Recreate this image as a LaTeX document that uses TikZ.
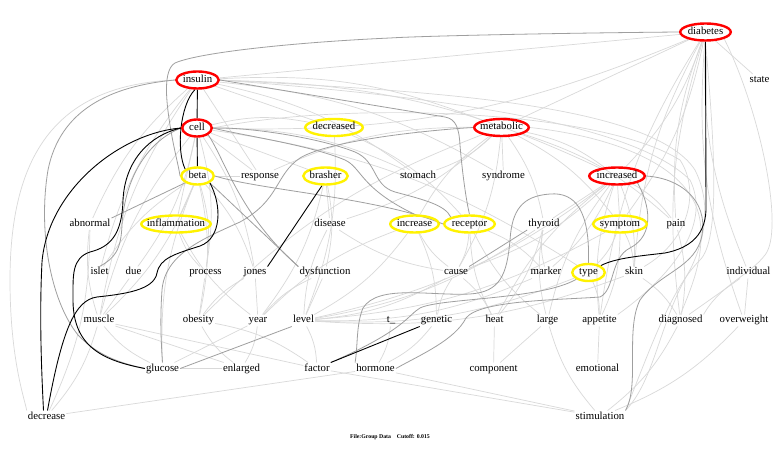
\documentclass[tikz,border=0pt]{standalone}
\usepackage{fontspec}
\setmainfont{Liberation Serif}
\usetikzlibrary{shapes.geometric,backgrounds}
\newcommand{\lblfont}{\fontsize{10.8}{12}\selectfont}
\begin{document}
\begin{tikzpicture}[x=1pt,y=-1pt,
 lab/.style={inner sep=1pt, font=\lblfont, text height=7.3pt, text depth=2.3pt},
 ov/.style={ellipse, line width=2.4pt, inner sep=0pt, minimum height=17pt},
 redov/.style={ov, draw=red},
 yelov/.style={ov, draw=yellow},
 lt/.style={draw=gray!30, line width=0.7pt},
 dk/.style={draw=gray!75, line width=0.8pt},
 bk/.style={draw=black, line width=0.9pt},
]
\path[use as bounding box] (0,0) rectangle (780,449);

% highlighted nodes
\node[redov, minimum width=50.5pt] (diabetes) at (705.5,32) {};
\node[redov, minimum width=42.5pt] (insulin) at (197.5,80) {};
\node[redov, minimum width=29.5pt] (cell) at (197,128) {};
\node[yelov, minimum width=57.5pt] (decreased) at (334,127.5) {};
\node[redov, minimum width=54.5pt] (metabolic) at (501.5,127.5) {};
\node[yelov, minimum width=32.5pt] (beta) at (197.5,176) {};
\node[yelov, minimum width=44.5pt] (brasher) at (325.5,176) {};
\node[redov, minimum width=55.5pt] (increased) at (617,176) {};
\node[yelov, minimum width=69.5pt] (inflammation) at (176,224) {};
\node[yelov, minimum width=48.5pt] (increase) at (414.5,224) {};
\node[yelov, minimum width=50.5pt] (receptor) at (469.5,224) {};
\node[yelov, minimum width=53.5pt] (symptom) at (620,224) {};
\node[yelov, minimum width=32.5pt] (type) at (588.5,272.5) {};

\foreach \n in {diabetes,insulin,cell,decreased,metabolic,beta,brasher,increased,inflammation,increase,receptor,symptom,type}
  \node[lab] (\n-t) at (\n) {\n};

% plain labels
\node[lab] (state) at (759.5,80) {state};
\node[lab] (response) at (260,176) {response};
\node[lab] (stomach) at (418,176) {stomach};
\node[lab] (syndrome) at (503.5,176) {syndrome};
\node[lab] (abnormal) at (90,224) {abnormal};
\node[lab] (disease) at (330,224) {disease};
\node[lab] (thyroid) at (544,224) {thyroid};
\node[lab] (pain) at (676,224) {pain};
\node[lab] (islet) at (99.5,272.5) {islet};
\node[lab] (due) at (133.5,272.5) {due};
\node[lab] (process) at (205.5,272.5) {process};
\node[lab] (jones) at (255,272.5) {jones};
\node[lab] (dysfunction) at (325,272.5) {dysfunction};
\node[lab] (cause) at (456,272.5) {cause};
\node[lab] (marker) at (546,272.5) {marker};
\node[lab] (skin) at (634,272.5) {skin};
\node[lab] (individual) at (748.5,272.5) {individual};
\node[lab] (muscle) at (99,320.5) {muscle};
\node[lab] (obesity) at (198.5,320.5) {obesity};
\node[lab] (year) at (258,320.5) {year};
\node[lab] (level) at (303.5,320.5) {level};
\node[lab] (tu) at (391,320.5) {t\_};
\node[lab] (genetic) at (436.5,320.5) {genetic};
\node[lab] (heat) at (494.5,320.5) {heat};
\node[lab] (large) at (547.5,320.5) {large};
\node[lab] (appetite) at (599.5,320.5) {appetite};
\node[lab] (diagnosed) at (680.5,320.5) {diagnosed};
\node[lab] (overweight) at (744,320.5) {overweight};
\node[lab] (glucose) at (162.5,368.5) {glucose};
\node[lab] (enlarged) at (241.5,368.5) {enlarged};
\node[lab] (factor) at (317,368.5) {factor};
\node[lab] (hormone) at (375.5,368.5) {hormone};
\node[lab] (component) at (493.5,368.5) {component};
\node[lab] (emotional) at (597.5,368.5) {emotional};
\node[lab] (decrease) at (46.5,416.5) {decrease};
\node[lab] (stimulation) at (600,416.5) {stimulation};
\node[inner sep=0pt, font=\fontsize{5.8}{7}\selectfont\bfseries] (caption) at (390,437) {File:Group Data\quad Cutoff: 0.015};

\begin{pgfonlayer}{background}
\fill[white] (0,0) rectangle (780,449);
% light edges
\foreach \a/\b in {diabetes/state,diabetes/insulin,diabetes/metabolic,metabolic/syndrome,increased/symptom,increased/thyroid,insulin/decreased,insulin/response,cell/response,cell/brasher,cell/inflammation,beta/inflammation,beta/response,brasher/disease,appetite/emotional,individual/overweight,individual/diagnosed,heat/component,large/component,decrease/hormone,hormone/stimulation,factor/stimulation,obesity/process,muscle/due,year/jones,level/dysfunction,glucose/year,muscle/factor,muscle/enlarged,glucose/enlarged}
  \draw[lt] (\a) -- (\b);
\foreach \a/\b in {diabetes/symptom,diabetes/increased,diabetes/cell,insulin/metabolic,insulin/increased,insulin/stomach,insulin/syndrome,cell/decreased,cell/stomach,cell/process,cell/due,cell/jones,cell/type,metabolic/increased,metabolic/thyroid,metabolic/symptom,metabolic/stomach,metabolic/disease,metabolic/cause,metabolic/pain,beta/process,beta/jones,beta/obesity,beta/muscle,increased/pain,increased/skin,increased/cause,increased/level,increased/marker,decreased/level,decreased/receptor,brasher/year,brasher/dysfunction,receptor/cause,receptor/marker,increase/level,increase/genetic,thyroid/level,thyroid/heat,symptom/type,symptom/appetite,symptom/skin,symptom/level,pain/diagnosed,cause/level,cause/heat,marker/level,type/level,type/appetite,skin/diagnosed,skin/level,obesity/factor,year/enlarged,level/factor,tu/hormone,genetic/hormone,diagnosed/stimulation,overweight/stimulation}
  \draw[lt] (\a) to[bend left=12] (\b);
\foreach \a/\b in {diabetes/individual,diabetes/overweight,diabetes/diagnosed,diabetes/skin,diabetes/pain,diabetes/appetite,insulin/abnormal,insulin/muscle,insulin/islet,cell/muscle,beta/islet,beta/glucose,inflammation/process,inflammation/year,disease/cause,disease/level,increase/cause,increase/year,receptor/heat,receptor/large,thyroid/marker,thyroid/large,dysfunction/year,jones/obesity,large/stimulation,cause/genetic,increased/heat,increased/appetite,increased/large,metabolic/obesity,metabolic/increase,metabolic/response,decrease/abnormal,decrease/muscle,abnormal/muscle,muscle/glucose,obesity/enlarged}
  \draw[lt] (\a) to[bend right=12] (\b);
\draw[lt] (insulin.west) .. controls (60,85) and (10,150) .. (10,280) .. controls (10,360) and (25,400) .. (decrease.north west);
\draw[lt] (insulin.east) .. controls (400,90) and (650,100) .. (695,170) .. controls (715,210) and (700,250) .. (690,270) .. controls (660,320) and (655,380) .. (stimulation.north east);
\draw[lt] (metabolic.east) .. controls (600,135) and (690,160) .. (700,220) .. controls (705,260) and (690,290) .. (diagnosed.north);
\draw[lt] (cell.east) .. controls (350,100) and (600,110) .. (680,160) .. controls (700,190) and (690,240) .. (skin.north east);
\draw[lt] (insulin.east) .. controls (420,95) and (630,120) .. (690,180) .. controls (710,220) and (680,270) .. (appetite.north east);
\draw[lt] (diabetes.south east) .. controls (760,110) and (785,230) .. (765,255) .. controls (750,275) and (720,285) .. (diagnosed.north east);
\draw[lt] (diabetes.south) .. controls (715,150) and (720,240) .. (700,260) .. controls (670,290) and (650,350) .. (stimulation.north east);

% dark gray edges
\draw[dk] (diabetes.west) .. controls (560,33) and (420,36) .. (390,38) .. controls (300,42) and (200,52) .. (175,63) .. controls (163,70) and (166,100) .. (170,125) .. controls (174,150) and (178,163) .. (beta.west);
\draw[dk] (insulin.west) .. controls (110,86) and (60,110) .. (48,170) .. controls (38,230) and (50,300) .. (78,335) .. controls (100,358) and (125,364) .. (glucose.west);
\draw[dk] (insulin.east) -- (445,117) .. controls (456,119) and (459,128) .. (460,145) .. controls (462,170) and (466,200) .. (receptor.north);
\draw[dk] (cell.east) .. controls (250,127) and (320,138) .. (355,152) .. controls (378,162) and (372,185) .. (395,192) .. controls (425,200) and (445,205) .. (receptor.north west);
\draw[dk] (cell.east) .. controls (240,135) and (310,145) .. (345,160) .. controls (362,168) and (360,188) .. (increase.north);
\draw[dk] (metabolic.west) .. controls (430,130) and (330,140) .. (300,158) .. controls (275,175) and (280,200) .. (240,222) .. controls (200,240) and (165,255) .. (162,290) .. controls (160,320) and (161,340) .. (glucose.north);
\draw[dk] (beta.east) .. controls (260,190) and (380,198) .. (receptor.west);
\draw[dk] (beta.south east) -- (dysfunction.north west);
\draw[dk] (cell.south east) .. controls (225,160) and (240,215) .. (dysfunction.north west);
\draw[dk] (beta.south west) -- (abnormal.north east);
\draw[dk] (cell.west) .. controls (150,140) and (125,175) .. (122,225) .. controls (121,250) and (115,258) .. (islet.north);
\draw[dk] (increased.east) .. controls (680,178) and (708,200) .. (702,235) .. controls (696,268) and (660,272) .. (640,300) .. controls (625,330) and (640,385) .. (stimulation.north east);
\draw[dk] (increased.south east) .. controls (650,205) and (655,235) .. (630,248) .. controls (610,258) and (615,290) .. (600,297) .. controls (560,300) and (480,300) .. (466,318) .. controls (455,340) and (420,355) .. (hormone.east);
\draw[dk] (type.north) .. controls (590,210) and (575,192) .. (550,194) .. controls (522,196) and (512,210) .. (510,240) .. controls (507,275) and (500,292) .. (470,294) .. controls (430,296) and (378,284) .. (363,308) .. controls (356,325) and (358,345) .. (hormone.north west);
\draw[dk] (thyroid.south west) -- (cause.north east);
\draw[dk] (level.south west) -- (glucose.east);
\draw[dk] (type.south west) .. controls (540,300) and (440,298) .. (420,308) .. controls (408,315) and (405,330) .. (factor.north east);

% black edges
\draw[bk] (insulin) -- (cell);
\draw[bk] (cell) -- (beta);
\draw[bk] (insulin.255) .. controls (180,105) and (176,150) .. (beta.north west);
\draw[bk] (cell.west) .. controls (120,133) and (48,190) .. (42,262) .. controls (39,320) and (42,380) .. ([xshift=-3pt]decrease.north);
\draw[bk] (beta.south east) .. controls (222,205) and (222,238) .. (200,246) .. controls (175,254) and (160,258) .. (157,273) .. controls (154,290) and (125,294) .. (97,297) .. controls (75,300) and (62,330) .. ([xshift=1pt]decrease.north);
\draw[bk] (cell.west) .. controls (150,135) and (125,160) .. (123,200) .. controls (122,235) and (110,247) .. (90,252) .. controls (72,258) and (73,275) .. (73,297) .. controls (72,345) and (100,360) .. (glucose.west);
\draw[bk] (diabetes.south) -- (706,205) .. controls (707,235) and (690,248) .. (665,253) .. controls (640,256) and (615,258) .. (type.north east);
\draw[bk] (brasher.250) -- (jones.north east);
\draw[bk] (genetic.south west) -- (factor.north east);
\end{pgfonlayer}
\end{tikzpicture}
\end{document}
